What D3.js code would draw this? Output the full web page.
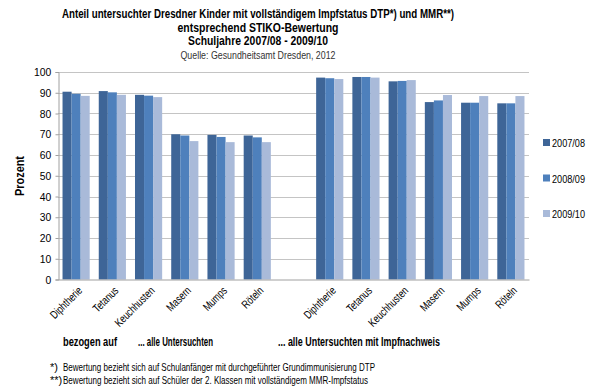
<!DOCTYPE html>
<html>
<head>
<meta charset="utf-8">
<script src="https://cdn.jsdelivr.net/npm/d3@7"></script>
<style>
  body { margin: 0; background: #fff; }
  text { font-family: "Liberation Sans", Arial, sans-serif; }
</style>
</head>
<body>
<div id="chart"></div>
<script>
var w = 600;
var h = 388;

// categories, with one empty slot between the two groups
var categories = ["Diphtherie", "Tetanus", "Keuchhusten", "Masern", "Mumps", "Röteln", "",
                  "Diphtherie ", "Tetanus ", "Keuchhusten ", "Masern ", "Mumps ", "Röteln "];
var seriesNames = ["2007/08", "2008/09", "2009/10"];
var colors = ["#3e6597", "#4e80bc", "#a9bad9"];

var v0708 = [90.5, 90.8, 89.0, 70.0, 69.7, 69.4, null, 97.3, 97.6, 95.5, 85.5, 85.2, 84.9];
var v0809 = [89.5, 90.2, 88.6, 69.4, 68.7, 68.5, null, 97.0, 97.6, 95.7, 86.3, 85.2, 84.9];
var v0910 = [88.5, 89.0, 87.9, 66.7, 66.2, 66.2, null, 96.6, 97.3, 96.1, 88.9, 88.4, 88.4];
var series = [v0708, v0809, v0910];

var yTicks = [0, 10, 20, 30, 40, 50, 60, 70, 80, 90, 100];

var titleLines = [
  "Anteil untersuchter Dresdner Kinder mit vollständigem Impfstatus DTP*) und MMR**)",
  "entsprechend STIKO-Bewertung",
  "Schuljahre 2007/08 - 2009/10"
];
var sourceText = "Quelle: Gesundheitsamt Dresden, 2012";
var footnotes = [
  ["*)", "Bewertung bezieht sich auf Schulanfänger mit durchgeführter Grundimmunisierung DTP"],
  ["**)", "Bewertung bezieht sich auf Schüler der 2. Klassen mit vollständigem MMR-Impfstatus"]
];

var svg = d3.select("#chart").append("svg")
  .attr("width", w).attr("height", h);

// squeeze a text to the width it has in the picture (the original uses a narrow face)
function fit(sel, len) {
  sel.attr("textLength", len).attr("lengthAdjust", "spacingAndGlyphs");
}

var x0 = d3.scaleBand().domain(categories).range([58, 529]).paddingInner(0.25).paddingOuter(0.125);
var x1 = d3.scaleBand().domain(seriesNames).range([0, x0.bandwidth()]);
var y = d3.scaleLinear().domain([0, 100]).range([279.5, 72]);

// gridlines
svg.append("g")
  .selectAll("line")
  .data(yTicks.slice(1))
  .join("line")
  .attr("x1", 58).attr("x2", 529)
  .attr("y1", d => Math.round(y(d)) + 0.5).attr("y2", d => Math.round(y(d)) + 0.5)
  .attr("stroke", "#c4c4c4").attr("stroke-width", 1);

// bars
var groups = svg.append("g")
  .selectAll("g")
  .data(series)
  .join("g")
  .attr("fill", (d, i) => colors[i]);

groups.each(function(vals, si) {
  d3.select(this).selectAll("rect")
    .data(vals.map((v, i) => ({v: v, c: categories[i]})).filter(d => d.v != null))
    .join("rect")
    .attr("x", d => x0(d.c) + x1(seriesNames[si]))
    .attr("width", x1.bandwidth())
    .attr("y", d => y(d.v))
    .attr("height", d => y(0) - y(d.v));
});

// y axis
var yAxis = svg.append("g")
  .attr("transform", "translate(58.5,0)")
  .call(d3.axisLeft(y).tickValues(yTicks).tickSize(3).tickPadding(5));
yAxis.select(".domain").attr("stroke", "#a0a0a0");
yAxis.selectAll(".tick line").attr("stroke", "#a0a0a0");
yAxis.selectAll("text").attr("font-size", 11.5).attr("fill", "#000")
  .attr("transform", "scale(0.9,1)");

// x axis
var xAxis = svg.append("g")
  .attr("transform", "translate(0," + y(0) + ")")
  .call(d3.axisBottom(x0).tickSize(0).tickFormat(d => d.trim()));
xAxis.select(".domain").attr("stroke", "#a0a0a0");
xAxis.selectAll("text")
  .attr("font-size", 11.5).attr("fill", "#000")
  .attr("text-anchor", "end")
  .attr("transform", "translate(4,9) rotate(-45) scale(0.76,1)")
  .attr("dy", "0.35em").attr("y", 0).attr("x", 0);

svg.append("text")
  .attr("transform", "translate(24,176) rotate(-90)")
  .attr("text-anchor", "middle")
  .attr("font-size", 12).attr("font-weight", "bold")
  .text("Prozent")
  .call(fit, 40);

// title
var titleWidths = [392, 161, 140];
svg.append("g").selectAll("text")
  .data(titleLines)
  .join("text")
  .attr("x", 258).attr("y", (d, i) => 18 + i * 13.5)
  .attr("text-anchor", "middle")
  .attr("font-size", 12.5).attr("font-weight", "bold")
  .text(d => d)
  .each(function(d, i) { d3.select(this).call(fit, titleWidths[i]); });

svg.append("text")
  .attr("x", 258).attr("y", 59)
  .attr("text-anchor", "middle")
  .attr("font-size", 11.5)
  .attr("fill", "#333")
  .text(sourceText)
  .call(fit, 155);

// legend
var legend = svg.append("g").selectAll("g")
  .data(seriesNames)
  .join("g")
  .attr("transform", (d, i) => "translate(543," + (143 + i * 35.5) + ")");
legend.append("rect")
  .attr("x", 0).attr("y", -4).attr("width", 7).attr("height", 7)
  .attr("fill", (d, i) => colors[i]);
legend.append("text")
  .attr("x", 9).attr("y", 0).attr("dy", "0.35em")
  .attr("font-size", 11.5)
  .text(d => d)
  .call(fit, 33);

// group captions
svg.append("text").attr("x", 63).attr("y", 346)
  .attr("font-size", 12).attr("font-weight", "bold").text("bezogen auf").call(fit, 54);
svg.append("text").attr("x", 138).attr("y", 346)
  .attr("font-size", 12).attr("font-weight", "bold").text("... alle Untersuchten").call(fit, 75);
svg.append("text").attr("x", 278).attr("y", 346)
  .attr("font-size", 12).attr("font-weight", "bold").text("... alle Untersuchten mit Impfnachweis").call(fit, 162);

// footnotes
var fnWidths = [312, 305];
var fn = svg.append("g").selectAll("g")
  .data(footnotes)
  .join("g")
  .attr("transform", (d, i) => "translate(0," + (371 + i * 13) + ")");
fn.append("text").attr("x", 50).attr("font-size", 11).text(d => d[0]);
fn.append("text").attr("x", 63).attr("font-size", 11).text(d => d[1])
  .each(function(d, i) { d3.select(this).call(fit, fnWidths[i]); });
</script>
</body>
</html>
